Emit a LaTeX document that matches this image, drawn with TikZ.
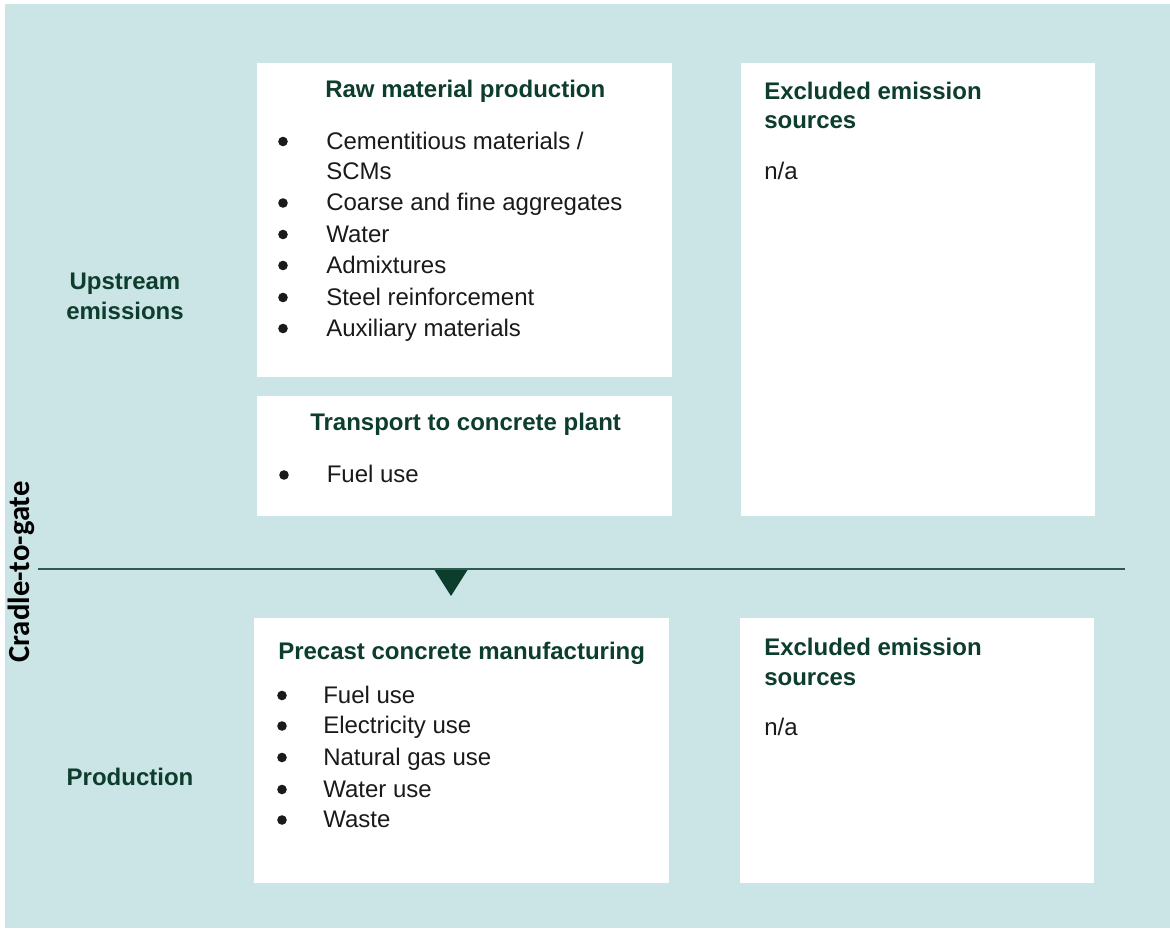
\documentclass[tikz,border=0pt]{standalone}
\usepackage{fontspec}
\setmainfont{Liberation Sans}
\newfontfamily\carlitofont{Carlito}
\usetikzlibrary{fit}
\definecolor{bgteal}{HTML}{CBE4E5}
\definecolor{hdgreen}{HTML}{0D3D2C}
\definecolor{linegreen}{HTML}{2C5A50}
\definecolor{bodytext}{HTML}{1A1A1A}
\begin{document}
\begin{tikzpicture}[x=0.75pt,y=-0.75pt,
  whitebox/.style={fill=white,draw=none,inner sep=0pt},
  tx/.style={anchor=base west,inner sep=0pt,text=bodytext,font=\fontsize{18}{22}\selectfont},
  bulletdot/.style={fill=bodytext},
  hd/.style={anchor=base west,inner sep=0pt,text=hdgreen,font=\fontsize{18}{22}\selectfont\bfseries},
  side/.style={anchor=base,inner sep=0pt,text=hdgreen,font=\fontsize{18}{22}\selectfont\bfseries}]
\useasboundingbox (0,0) rectangle (1170,928);
\fill[bgteal] (5,4) rectangle (1170,928);
% boxes
\node[whitebox,fit={(257,63)(672,377)}] (raw) {};
\node[whitebox,fit={(257,396)(672,516)}] (trans) {};
\node[whitebox,fit={(741,63)(1095,516)}] (excl1) {};
\node[whitebox,fit={(254,618)(669,883)}] (prec) {};
\node[whitebox,fit={(740,618)(1094,883)}] (excl2) {};
% divider line and marker
\coordinate (lineL) at (38,569);
\coordinate (lineR) at (1125,569);
\draw[linegreen,line width=1.1pt] (lineL) -- (lineR);
\fill[hdgreen] (434.5,570) -- (467.5,570) -- (451,596) -- cycle;
% vertical label
\node[rotate=90,inner sep=0pt,font=\carlitofont\fontsize{23}{26}\selectfont\bfseries,text=black] (ctg) at (21,572) {Cradle-to-gate};
% side labels
\node[side] (up1) at (125,289) {Upstream};
\node[side] (up2) at (125,319) {emissions};
\node[side] (prod) at (130,785) {Production};
% raw material
\node[hd] (rawh) at (325,97) {Raw material production};
\foreach \y/\t in {149/{Cementitious materials /},210.5/{Coarse and fine aggregates},242/{Water},273/{Admixtures},305/{Steel reinforcement},336/{Auxiliary materials}}{
  \fill[bulletdot] (283,\y-7.5) circle[radius=3.6pt];
  \node[tx] at (326,\y) {\t};
}
\node[tx] (scms) at (326,179.5) {SCMs};
% transport
\node[hd] (transh) at (310,430.5) {Transport to concrete plant};
\fill[bulletdot] (284,475) circle[radius=3.6pt];
\node[tx] (tfuel) at (326.5,482.5) {Fuel use};
% excluded top
\node[hd] (ex1a) at (764,99.5) {Excluded emission};
\node[hd] (ex1b) at (764,128.5) {sources};
\node[tx] (ex1c) at (764,179.5) {n/a};
% precast
\node[hd] (prech) at (278,659.5) {Precast concrete manufacturing};
\foreach \y/\t in {703/{Fuel use},733.5/{Electricity use},765/{Natural gas use},797/{Water use},827.5/{Waste}}{
  \fill[bulletdot] (282,\y-7.5) circle[radius=3.6pt];
  \node[tx] at (323,\y) {\t};
}
% excluded bottom
\node[hd] (ex2a) at (764,655) {Excluded emission};
\node[hd] (ex2b) at (764,685) {sources};
\node[tx] (ex2c) at (764,735) {n/a};
\end{tikzpicture}
\end{document}
